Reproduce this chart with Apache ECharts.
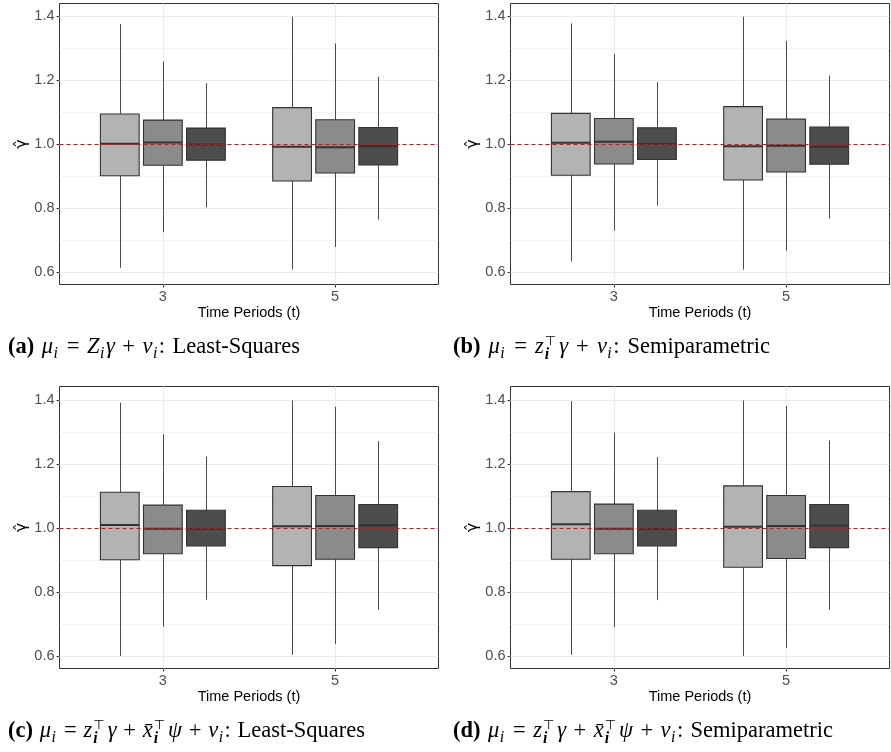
<!DOCTYPE html>
<html>
<head>
<meta charset="utf-8">
<script src="https://cdn.jsdelivr.net/npm/echarts@6/dist/echarts.min.js"></script>
<style>
html,body{margin:0;padding:0;background:#fff;}
#c{width:891px;height:752px;}
</style>
</head>
<body>
<div id="c"></div>
<script>
// ---------- data ----------
const tLabels = ['3', '5'];                 // time periods (x categories)
const yTicks = [0.6, 0.8, 1.0, 1.2, 1.4];    // major y ticks
const yMinor = [0.7, 0.9, 1.1, 1.3];         // minor y gridlines
const groupFills = ['#B3B3B3', '#8B8B8B', '#4D4D4D'];
const refValue = 1.0;
const xTitle = 'Time Periods (t)';
const yTitle = 'γ\u0302';

// each row: [lower whisker, Q1, median, Q3, upper whisker]; order: t=3 (g1,g2,g3), t=5 (g1,g2,g3)
const boxesA = [
  [0.614, 0.901, 1.001, 1.094, 1.375],
  [0.725, 0.934, 1.005, 1.075, 1.258],
  [0.803, 0.950, 0.999, 1.050, 1.190],
  [0.608, 0.885, 0.992, 1.114, 1.398],
  [0.679, 0.910, 0.990, 1.076, 1.314],
  [0.764, 0.935, 0.993, 1.052, 1.210]
];
const boxesB = [
  [0.633, 0.903, 1.004, 1.096, 1.377],
  [0.730, 0.938, 1.007, 1.080, 1.281],
  [0.808, 0.952, 1.000, 1.051, 1.194],
  [0.608, 0.888, 0.993, 1.117, 1.398],
  [0.667, 0.913, 0.995, 1.078, 1.322],
  [0.767, 0.937, 0.992, 1.053, 1.214]
];
const boxesC = [
  [0.600, 0.900, 1.009, 1.111, 1.391],
  [0.691, 0.919, 0.997, 1.071, 1.292],
  [0.775, 0.943, 0.996, 1.055, 1.222],
  [0.603, 0.882, 1.005, 1.129, 1.398],
  [0.637, 0.902, 1.006, 1.101, 1.378],
  [0.744, 0.938, 1.008, 1.073, 1.271]
];
const boxesD = [
  [0.603, 0.902, 1.011, 1.113, 1.396],
  [0.690, 0.919, 0.997, 1.074, 1.297],
  [0.774, 0.943, 0.996, 1.055, 1.221],
  [0.600, 0.877, 1.003, 1.131, 1.398],
  [0.625, 0.904, 1.006, 1.101, 1.381],
  [0.744, 0.938, 1.007, 1.073, 1.273]
];
const yRangeTop = [0.5617, 1.439];
const yRangeBottom = [0.5605, 1.4414];

// ---------- layout ----------
const panels = [
  {boxes: boxesA, grid: {left: 59.5, top: 3.5, width: 379, height: 281}, yr: yRangeTop},
  {boxes: boxesB, grid: {left: 510.5, top: 3.5, width: 379, height: 281}, yr: yRangeTop},
  {boxes: boxesC, grid: {left: 59.5, top: 386.5, width: 379, height: 282}, yr: yRangeBottom},
  {boxes: boxesD, grid: {left: 510.5, top: 386.5, width: 379, height: 282}, yr: yRangeBottom}
];
const DODGE = 0.25, BOX_HALF = 0.1125;

const grids = [], xAxes = [], yAxes = [], series = [];
panels.forEach((p, i) => {
  grids.push(Object.assign({show: true, borderColor: '#333333', borderWidth: 1, backgroundColor: '#fff'}, p.grid));
  xAxes.push({
    type: 'value', gridIndex: i, min: 0.4, max: 2.6,
    name: xTitle, nameLocation: 'middle', nameGap: 20,
    nameTextStyle: {fontFamily: 'Liberation Sans', fontSize: 14.5, color: '#000'},
    axisLine: {show: false},
    splitLine: {show: false},
    axisTick: {show: true, length: 3, lineStyle: {color: '#333333', width: 1}, customValues: [1, 2]},
    axisLabel: {show: true, margin: 5, fontFamily: 'Liberation Sans', fontSize: 14.5, color: '#4D4D4D',
      customValues: [1, 2], formatter: v => tLabels[Math.round(v) - 1]}
  });
  yAxes.push({
    type: 'value', gridIndex: i, min: p.yr[0], max: p.yr[1],
    name: yTitle, nameLocation: 'middle', nameGap: 30, nameRotate: 90,
    nameTextStyle: {fontFamily: 'DejaVu Sans', fontSize: 16, color: '#000'},
    axisLine: {show: false},
    splitLine: {show: false},
    axisTick: {show: true, length: 3, lineStyle: {color: '#333333', width: 1}, customValues: yTicks},
    axisLabel: {show: true, margin: 5, fontFamily: 'Liberation Sans', fontSize: 14.5, color: '#4D4D4D',
      customValues: yTicks, formatter: v => v.toFixed(1)}
  });
  // gridlines
  const gl = [];
  yMinor.forEach(v => gl.push({yAxis: v, lineStyle: {color: '#F0F0F0', width: 0.6, type: 'solid'}}));
  yTicks.forEach(v => gl.push({yAxis: v, lineStyle: {color: '#EBEBEB', width: 1.1, type: 'solid'}}));
  [1, 2].forEach(v => gl.push({xAxis: v, lineStyle: {color: '#EBEBEB', width: 1.1, type: 'solid'}}));
  series.push({
    type: 'scatter', xAxisIndex: i, yAxisIndex: i, data: [], z: 1, silent: true,
    markLine: {z: 1, silent: true, symbol: ['none', 'none'], label: {show: false}, animation: false, data: gl}
  });
  // boxes
  const rows = p.boxes.map((r, idx) => {
    const t = Math.floor(idx / 3), g = idx % 3;
    return [t + 1 + (g - 1) * DODGE].concat(r).concat([g]);
  });
  series.push({
    type: 'custom', xAxisIndex: i, yAxisIndex: i, z: 3, silent: true,
    encode: {x: 0, y: [1, 2, 3, 4, 5]},
    data: rows,
    renderItem: function (params, api) {
      const x = api.value(0), lo = api.value(1), q1 = api.value(2), med = api.value(3),
        q3 = api.value(4), hi = api.value(5), g = api.value(6);
      const cx = Math.round(api.coord([x, 0])[0]) + 0.5;
      const pHi = api.coord([x, hi]), pQ3 = api.coord([x, q3]), pQ1 = api.coord([x, q1]), pLo = api.coord([x, lo]);
      const pl = api.coord([x - BOX_HALF, q3]), pr = api.coord([x + BOX_HALF, q1]);
      const pm = api.coord([x, med]);
      const stroke = '#333333';
      return {
        type: 'group',
        children: [
          {type: 'line', shape: {x1: cx, y1: pHi[1], x2: cx, y2: pQ3[1]}, style: {stroke: '#4a4a4a', lineWidth: 1}},
          {type: 'line', shape: {x1: cx, y1: pQ1[1], x2: cx, y2: pLo[1]}, style: {stroke: '#4a4a4a', lineWidth: 1}},
          {type: 'rect', shape: {x: pl[0], y: pl[1], width: pr[0] - pl[0], height: pr[1] - pl[1]},
            style: {fill: groupFills[g], stroke: stroke, lineWidth: 1.1}},
          {type: 'line', shape: {x1: pl[0], y1: pm[1], x2: pr[0], y2: pm[1]}, style: {stroke: stroke, lineWidth: 2}}
        ]
      };
    }
  });
  // reference line
  series.push({
    type: 'scatter', xAxisIndex: i, yAxisIndex: i, data: [], z: 10, silent: true,
    markLine: {z: 10, silent: true, symbol: ['none', 'none'], label: {show: false}, animation: false,
      data: [{yAxis: refValue, lineStyle: {color: '#FF0000', width: 1.1, type: [4, 3]}}]}
  });
});

// ---------- captions (math-style text) ----------
const F = 22.5;
const FAM = '"Liberation Serif"';
const mctx = document.createElement('canvas').getContext('2d');
function measure(t, st, wt, sz, fam) { mctx.font = `${st} ${wt} ${sz}px ${fam || FAM}`; return mctx.measureText(t).width; }
const K = 0.34;
function txt(t, x, baseline, st, wt, sz, fam) {
  return {type: 'text', x: x, y: baseline - K * sz, silent: true,
    style: {text: t, fontFamily: fam || 'Liberation Serif', fontStyle: st, fontWeight: wt, fontSize: sz,
      fill: '#000', align: 'left', verticalAlign: 'middle'}};
}
function layout(tokens, extra) {
  const items = [];
  let x = 0;
  const s = F * 0.7;
  tokens.forEach(tk => {
    const k = tk[0];
    if (k === 'b' || k === 'r' || k === 'm') {
      const st = k === 'm' ? 'italic' : 'normal';
      const wt = k === 'b' ? 'bold' : 'normal';
      items.push([tk[1], x, 0, st, wt, F]);
      x += measure(tk[1], st, wt, F);
    } else if (k === 'sub') {
      items.push([tk[1], x + 0.5, 0.2 * F, 'italic', 'normal', s]);
      x += measure(tk[1], 'italic', 'normal', s) + 2;
    } else if (k === 'subsup') {
      const ss = F * 0.58;
      items.push([tk[1], x + 1, 0.24 * F, 'italic', 'bold', s]);
      items.push([tk[2], x + 1, -0.4 * F, 'normal', 'normal', ss, 'DejaVu Sans']);
      x += Math.max(measure(tk[1], 'italic', 'bold', s), measure(tk[2], 'normal', 'normal', ss, 'DejaVu Sans')) + 4;
    } else if (k === 'sp') {
      x += tk[1] * (0.25 * F + extra);
    }
  });
  return {items: items, width: x};
}
function caption(tokens, x0, baseline, targetWidth) {
  const nSp = tokens.filter(t => t[0] === 'sp').reduce((a, t) => a + t[1], 0);
  const nat = layout(tokens, 0).width;
  const extra = Math.max(-2, Math.min(4, (targetWidth - nat) / nSp));
  const res = layout(tokens, extra);
  return res.items.map(it => txt(it[0], x0 + it[1], baseline + it[2], it[3], it[4], it[5], it[6]));
}
const capA = [['b', '(a)'], ['sp', 1], ['m', 'μ'], ['sub', 'i'], ['sp', 1], ['r', '='], ['sp', 1], ['m', 'Z'], ['sub', 'i'], ['m', 'γ'],
  ['sp', 1], ['r', '+'], ['sp', 1], ['m', 'v'], ['sub', 'i'], ['r', ':'], ['sp', 1], ['r', 'Least-Squares']];
const capB = [['b', '(b)'], ['sp', 1], ['m', 'μ'], ['sub', 'i'], ['sp', 1], ['r', '='], ['sp', 1], ['m', 'z'], ['subsup', 'i', '⊤'], ['m', 'γ'],
  ['sp', 1], ['r', '+'], ['sp', 1], ['m', 'v'], ['sub', 'i'], ['r', ':'], ['sp', 1], ['r', 'Semiparametric']];
const capC = [['b', '(c)'], ['sp', 1], ['m', 'μ'], ['sub', 'i'], ['sp', 1], ['r', '='], ['sp', 1], ['m', 'z'], ['subsup', 'i', '⊤'], ['m', 'γ'],
  ['sp', 1], ['r', '+'], ['sp', 1], ['m', 'x\u0304'], ['subsup', 'i', '⊤'], ['m', 'ψ'], ['sp', 1], ['r', '+'], ['sp', 1],
  ['m', 'v'], ['sub', 'i'], ['r', ':'], ['sp', 1], ['r', 'Least-Squares']];
const capD = [['b', '(d)'], ['sp', 1], ['m', 'μ'], ['sub', 'i'], ['sp', 1], ['r', '='], ['sp', 1], ['m', 'z'], ['subsup', 'i', '⊤'], ['m', 'γ'],
  ['sp', 1], ['r', '+'], ['sp', 1], ['m', 'x\u0304'], ['subsup', 'i', '⊤'], ['m', 'ψ'], ['sp', 1], ['r', '+'], ['sp', 1],
  ['m', 'v'], ['sub', 'i'], ['r', ':'], ['sp', 1], ['r', 'Semiparametric']];

const graphics = []
  .concat(caption(capA, 8, 355, 292))
  .concat(caption(capB, 453, 355, 317))
  .concat(caption(capC, 8, 739, 357))
  .concat(caption(capD, 453, 739, 380));

const chart = echarts.init(document.getElementById('c'), null, {renderer: 'canvas'});
chart.setOption({
  animation: false,
  backgroundColor: '#fff',
  grid: grids,
  xAxis: xAxes,
  yAxis: yAxes,
  series: series,
  graphic: {elements: graphics}
});
</script>
</body>
</html>
